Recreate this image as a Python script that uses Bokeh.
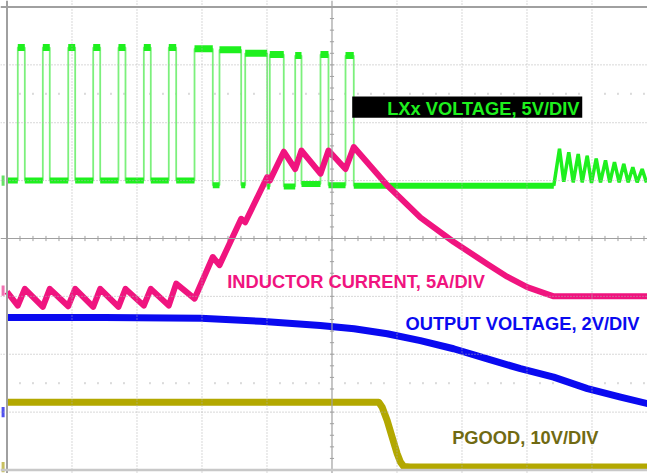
from bokeh.plotting import figure
from bokeh.models import Span, Label, BoxAnnotation
from bokeh.embed import file_html
from bokeh.resources import INLINE

# ---- channel settings (screen graticule: 10 x 8 divisions) ----
LX_OFS, LX_SCALE = 5.0, 5.0      # LXx voltage, 5 V/div
IL_OFS, IL_SCALE = 3.10, 5.0     # inductor current, 5 A/div
VO_OFS, VO_SCALE = 1.0, 2.0      # output voltage, 2 V/div
PG_OFS, PG_SCALE = 0.05, 10.0    # PGOOD, 10 V/div

# ---- LXx switching node (time in divisions, volts) ----
lx_rise = [0.166, 0.551, 0.942, 1.326, 1.715, 2.105, 2.489, 2.885, 3.269, 3.665, 4.043, 4.434, 4.823, 5.208]
lx_fall = [0.274, 0.658, 1.049, 1.434, 1.823, 2.212, 2.603, 3.166, 3.603, 4.003, 4.258, 4.531, 4.946, 5.335]
lx_high = [11.5, 11.5, 11.5, 11.5, 11.5, 11.5, 11.5, 11.4, 11.3, 11.0, 10.9, 10.8, 10.9, 10.8]
lx_low = [0.0, 0.0, 0.0, 0.0, 0.0, 0.0, 0.0, 0.0, -0.4, -0.4, -0.5, -0.5, -0.3, -0.4, -0.45]
ring_t = [8.412, 8.50, 8.566, 8.643, 8.711, 8.788, 8.849, 8.926, 8.992, 9.065, 9.131,
          9.208, 9.274, 9.346, 9.418, 9.489, 9.557, 9.628, 9.695, 9.772, 9.838]
ring_v = [-0.45, 2.75, -0.1, 2.45, -0.15, 2.3, -0.15, 2.15, -0.2, 1.9, -0.15,
          1.75, -0.15, 1.6, -0.15, 1.45, -0.15, 1.15, -0.15, 1.0, -0.15]

# ---- inductor current (A) ----
il_t = [0.0, 0.166, 0.274, 0.551, 0.658, 0.942, 1.049, 1.326, 1.434, 1.715, 1.823, 2.105, 2.212,
        2.489, 2.603, 2.885, 3.166, 3.269, 3.603, 3.665, 4.003, 4.043, 4.258, 4.434, 4.531,
        4.823, 4.946, 5.208, 5.335, 5.849, 6.362, 6.874, 7.388, 7.695, 8.003, 8.311, 8.412, 9.86]
il_a = [-0.1, -1.3, 0.15, -1.4, 0.15, -1.35, 0.15, -1.4, 0.15, -1.4, 0.15, -1.3, 0.15,
        -1.3, 0.6, -0.7, 2.9, 2.2, 6.2, 5.9, 9.8, 9.5, 12.0, 10.5, 12.1,
        10.1, 12.1, 10.5, 12.4, 9.1, 6.3, 4.2, 2.3, 1.2, 0.3, -0.3, -0.5, -0.5]

# ---- output voltage (V) ----
vo_t = [0.0, 1.5, 2.98, 3.9, 4.82, 5.34, 5.85, 6.36, 6.87, 7.39, 7.9, 8.41, 8.93, 9.44, 9.86]
vo_v = [3.27, 3.27, 3.24, 3.14, 2.99, 2.88, 2.71, 2.47, 2.19, 1.84, 1.50, 1.21, 0.81, 0.52, 0.29]

# ---- PGOOD (V) ----
pg_t = [0.0, 5.72, 5.772, 5.849, 5.926, 6.003, 6.054, 6.105, 6.2, 9.86]
pg_v = [11.2, 11.2, 10.35, 8.05, 5.17, 2.30, 0.85, 0.1, 0.0, 0.0]

labels = ["LXx VOLTAGE, 5V/DIV", "INDUCTOR CURRENT, 5A/DIV", "OUTPUT VOLTAGE, 2V/DIV", "PGOOD, 10V/DIV"]

GREEN = "#1ef01e"
GREEN_EDGE = "#7cf07c"
PINK = "#f0147f"
BLUE = "#0a0af0"
OLIVE = "#b3a800"
OLIVE_TXT = "#706a12"
FONT = "Liberation Sans"


def to_div(vals, ofs, scale):
    return [ofs + v / scale for v in vals]


X0, X1 = -0.1, 9.854
Y0, Y1 = -0.0605, 8.1123
p = figure(width=647, height=473, x_range=(X0, X1), y_range=(Y0, Y1),
           x_axis_type=None, y_axis_type=None, toolbar_location=None,
           output_backend="svg", min_border=0)
p.grid.visible = False
p.outline_line_color = None
p.background_fill_color = "white"
p.border_fill_color = "white"

# ---- graticule ----
for i in range(1, 10):
    if i != 5:
        p.add_layout(Span(location=i, dimension="height", line_color="#b0b0b0",
                          line_dash="1 2", line_width=1))
for j in range(1, 8):
    if j != 4:
        p.add_layout(Span(location=j, dimension="width", line_color="#b0b0b0",
                          line_dash="1 2", line_width=1))
p.add_layout(Span(location=5, dimension="height", line_color="#a0a0a0", line_width=1.2))
p.add_layout(Span(location=4, dimension="width", line_color="#a0a0a0", line_width=1.2))

tx = [k * 0.2 for k in range(1, 50)]
p.segment(x0=tx, x1=tx, y0=[4 - 0.045] * len(tx), y1=[4 + 0.045] * len(tx),
          line_color="#a0a0a0", line_width=1)
ty = [k * 0.2 for k in range(1, 40)]
p.segment(x0=[5 - 0.032] * len(ty), x1=[5 + 0.032] * len(ty), y0=ty, y1=ty,
          line_color="#a0a0a0", line_width=1)
for row in (1.5, 6.5):
    rx = [k * 0.2 for k in range(1, 50) if k % 5 != 0]
    p.segment(x0=rx, x1=rx, y0=[row - 0.018] * len(rx), y1=[row + 0.018] * len(rx),
              line_color="#b8b8b8", line_width=1)

# frame (left, top, bottom; right edge lies outside the picture)
p.add_layout(Span(location=0, dimension="height", line_color="#a0a0a0", line_width=2))
p.add_layout(Span(location=8, dimension="width", line_color="#a0a0a0", line_width=2))
p.add_layout(Span(location=0, dimension="width", line_color="#c8c8c8", line_width=2.5))

# channel ground markers at the left edge
mk_ofs = [LX_OFS, IL_OFS, VO_OFS, PG_OFS]
mk_col = ["#66e066", "#f070b0", "#5050f0", "#c8c060"]
p.segment(x0=[-0.06] * 4, x1=[-0.06] * 4, y0=[o - 0.09 for o in mk_ofs],
          y1=[o + 0.09 for o in mk_ofs], line_color=mk_col, line_width=3)

# ---- LXx trace ----
pts_t, pts_v = [0.0], [lx_low[0]]
hx0, hx1, hy = [], [], []
lx0, lx1, ly = [0.0], [lx_rise[0]], [lx_low[0]]
for i in range(len(lx_rise)):
    r, f = lx_rise[i], lx_fall[i]
    pts_t += [r, r, f, f]
    pts_v += [lx_low[i], lx_high[i], lx_high[i], lx_low[i + 1]]
    hx0.append(r); hx1.append(f); hy.append(lx_high[i])
    nxt = lx_rise[i + 1] if i + 1 < len(lx_rise) else ring_t[0]
    lx0.append(f); lx1.append(nxt); ly.append(lx_low[i + 1])
pts_t += ring_t
pts_v += ring_v

p.line(pts_t, to_div(pts_v, LX_OFS, LX_SCALE), line_color=GREEN_EDGE, line_width=1.8)
p.segment(x0=hx0, x1=hx1, y0=to_div(hy, LX_OFS, LX_SCALE), y1=to_div(hy, LX_OFS, LX_SCALE),
          line_color=GREEN, line_width=7)
p.segment(x0=lx0, x1=lx1, y0=to_div(ly, LX_OFS, LX_SCALE), y1=to_div(ly, LX_OFS, LX_SCALE),
          line_color=GREEN, line_width=6)
p.line(ring_t, to_div(ring_v, LX_OFS, LX_SCALE), line_color=GREEN, line_width=3.5)

# ---- other traces ----
p.line(il_t, to_div(il_a, IL_OFS, IL_SCALE), line_color=PINK, line_width=6, line_join="round")
p.line(vo_t, to_div(vo_v, VO_OFS, VO_SCALE), line_color=BLUE, line_width=7, line_join="round")
p.line(pg_t, to_div(pg_v, PG_OFS, PG_SCALE), line_color=OLIVE, line_width=7, line_join="round")

# ---- labels ----
p.add_layout(BoxAnnotation(left=5.311, right=8.85, bottom=6.086, top=6.453,
                           fill_color="black", fill_alpha=1.0, line_color=None))
lab_pos = [(5.849, 6.248, GREEN), (3.388, 3.264, PINK), (6.131, 2.527, BLUE), (6.849, 0.558, OLIVE_TXT)]
for txt, (lx, ly_, col) in zip(labels, lab_pos):
    p.add_layout(Label(x=lx, y=ly_, text=txt, text_color=col, text_font=FONT,
                       text_font_size="18.3px", text_font_style="bold",
                       text_baseline="alphabetic", text_align="left"))

open("out.html", "w").write(file_html(p, INLINE))
